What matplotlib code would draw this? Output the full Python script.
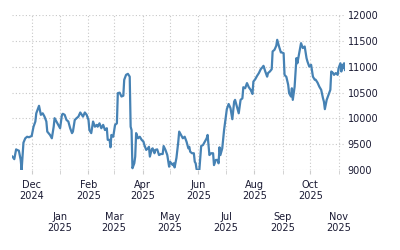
import numpy as np
import pandas as pd
import matplotlib
matplotlib.use("Agg")
import matplotlib.pyplot as plt
import matplotlib.dates as mdates

# days counted from 2024-12-01
days = [-21, -19, -17, -16, -14, -12, -11, -9, -7, -5, -3, 0, 2, 4, 5, 8, 10, 12, 14, 16,
        17, 20, 22, 24, 25, 27, 29, 31, 33, 34, 36, 38, 40, 42, 44, 45, 47, 49, 51, 53,
        54, 56, 58, 60, 62, 63, 65, 67, 69, 71, 72, 74, 76, 78, 80, 82, 83, 85, 86, 87,
        89, 91, 93, 94, 96, 98, 100, 101, 103, 105, 107, 108, 109, 110, 112, 113, 114, 116, 118, 120,
        122, 123, 125, 127, 128, 129, 131, 132, 134, 135, 137, 139, 141, 143, 144, 146, 148, 150, 151, 154,
        155, 156, 158, 160, 161, 163, 165, 167, 169, 171, 172, 173, 175, 177, 178, 179, 180, 181, 183, 185,
        187, 189, 191, 192, 194, 196, 198, 199, 201, 203, 204, 205, 206, 208, 210, 212, 213, 215, 217, 219,
        221, 222, 224, 226, 228, 230, 231, 233, 235, 237, 239, 241, 242, 244, 246, 248, 250, 252, 253, 255,
        257, 258, 260, 262, 263, 265, 267, 268, 270, 272, 273, 275, 276, 278, 280, 281, 283, 284, 285, 287,
        289, 290, 292, 294, 296, 298, 300, 301, 303, 305, 307, 309, 310, 312, 314, 316, 318, 319, 320, 322,
        324, 326, 327, 329, 330, 332, 334, 335, 337, 338, 339, 340, 341, 342]
values = [9260, 9210, 9400, 9390, 9375, 9195, 9000, 9530, 9615, 9645, 9635, 9660, 9840, 9940, 10100, 10245, 10070, 10100, 10035, 9940,
          9745, 9680, 9615, 9840, 10005, 9940, 9875, 9810, 10070, 10090, 10070, 9970, 9940, 9810, 9715, 9745, 9970, 10005, 10035, 10115,
          10090, 10035, 10115, 10070, 9970, 9775, 9715, 9940, 9840, 9875, 9840, 9905, 9810, 9875, 9775, 9810, 9585, 9585, 9440, 9680,
          9645, 9875, 9905, 10490, 10500, 10425, 10440, 10750, 10845, 10865, 10810, 9840, 9775, 9035, 9130, 9260, 9715, 9615, 9645, 9585,
          9550, 9485, 9390, 9420, 9450, 9260, 9400, 9420, 9325, 9390, 9400, 9290, 9310, 9310, 9465, 9390, 9290, 9065, 9160, 9095,
          9130, 9050, 9235, 9545, 9745, 9680, 9615, 9645, 9550, 9420, 9450, 9355, 9325, 9325, 9160, 9130, 9015, 9000, 9000, 9465,
          9485, 9550, 9615, 9680, 9290, 9325, 9325, 9095, 9195, 9195, 9130, 9440, 9290, 9420, 9775, 10035, 10180, 10280, 10200, 9985,
          10325, 10360, 10230, 10100, 10360, 10390, 10605, 10585, 10685, 10605, 10555, 10475, 10715, 10760, 10825, 10880, 10955, 10995, 11020, 10910,
          10810, 10880, 10910, 10955, 11300, 11330, 11410, 11525, 11395, 11280, 11280, 11265, 10845, 10805, 10650, 10490, 10425, 10585, 10360, 10615,
          11170, 11070, 11265, 11460, 11365, 11395, 11170, 11105, 11005, 11040, 10810, 10750, 10750, 10695, 10615, 10555, 10390, 10325, 10180, 10360,
          10455, 10555, 10910, 10880, 10845, 10880, 10845, 10975, 11070, 10910, 11040, 10975, 11070, 10940]

y_ticks = [9000, 9500, 10000, 10500, 11000, 11500, 12000]
month_labels = ["Dec\n2024", "Jan\n2025", "Feb\n2025", "Mar\n2025", "Apr\n2025", "May\n2025",
                "Jun\n2025", "Jul\n2025", "Aug\n2025", "Sep\n2025", "Oct\n2025", "Nov\n2025"]

base = pd.Timestamp("2024-12-01")
dates = [base + pd.Timedelta(days=d) for d in days]
months = pd.date_range("2024-12-01", "2025-11-01", freq="MS")

fig = plt.figure(figsize=(4, 2.5), dpi=100)
ax = fig.add_axes([0.03, 0.32, 0.8325, 0.6188])

ax.plot(dates, values, color="#4682b4", lw=1.6, solid_joinstyle="round")

ax.set_ylim(9000, 12000)
ax.set_xlim(base + pd.Timedelta(days=-21.5), base + pd.Timedelta(days=342))

ax.yaxis.tick_right()
ax.set_yticks(y_ticks)
ax.set_yticklabels([str(v) for v in y_ticks])

ax.set_xticks(months[::2])
ax.set_xticklabels(month_labels[::2])
ax.set_xticks(months[1::2], minor=True)
ax.set_xticklabels(month_labels[1::2], minor=True)

ax.tick_params(axis="y", length=0, pad=2, labelsize=7, labelcolor="#1a1a33")
ax.tick_params(axis="x", which="major", length=3, color="#cccccc", pad=4,
               labelsize=7, labelcolor="#1a1a33")
ax.tick_params(axis="x", which="minor", length=3, color="#cccccc", pad=27,
               labelsize=7, labelcolor="#1a1a33")
for lab in ax.get_xticklabels(which="both"):
    lab.set_linespacing(1.15)

ax.grid(True, which="both", axis="x", color="#c8c8c8", ls=(0, (1, 2)), lw=0.8)
ax.grid(True, which="major", axis="y", color="#c8c8c8", ls=(0, (1, 2)), lw=0.8)
for s in ax.spines.values():
    s.set_visible(False)

fig.savefig("out.png", dpi=100, facecolor="white")
